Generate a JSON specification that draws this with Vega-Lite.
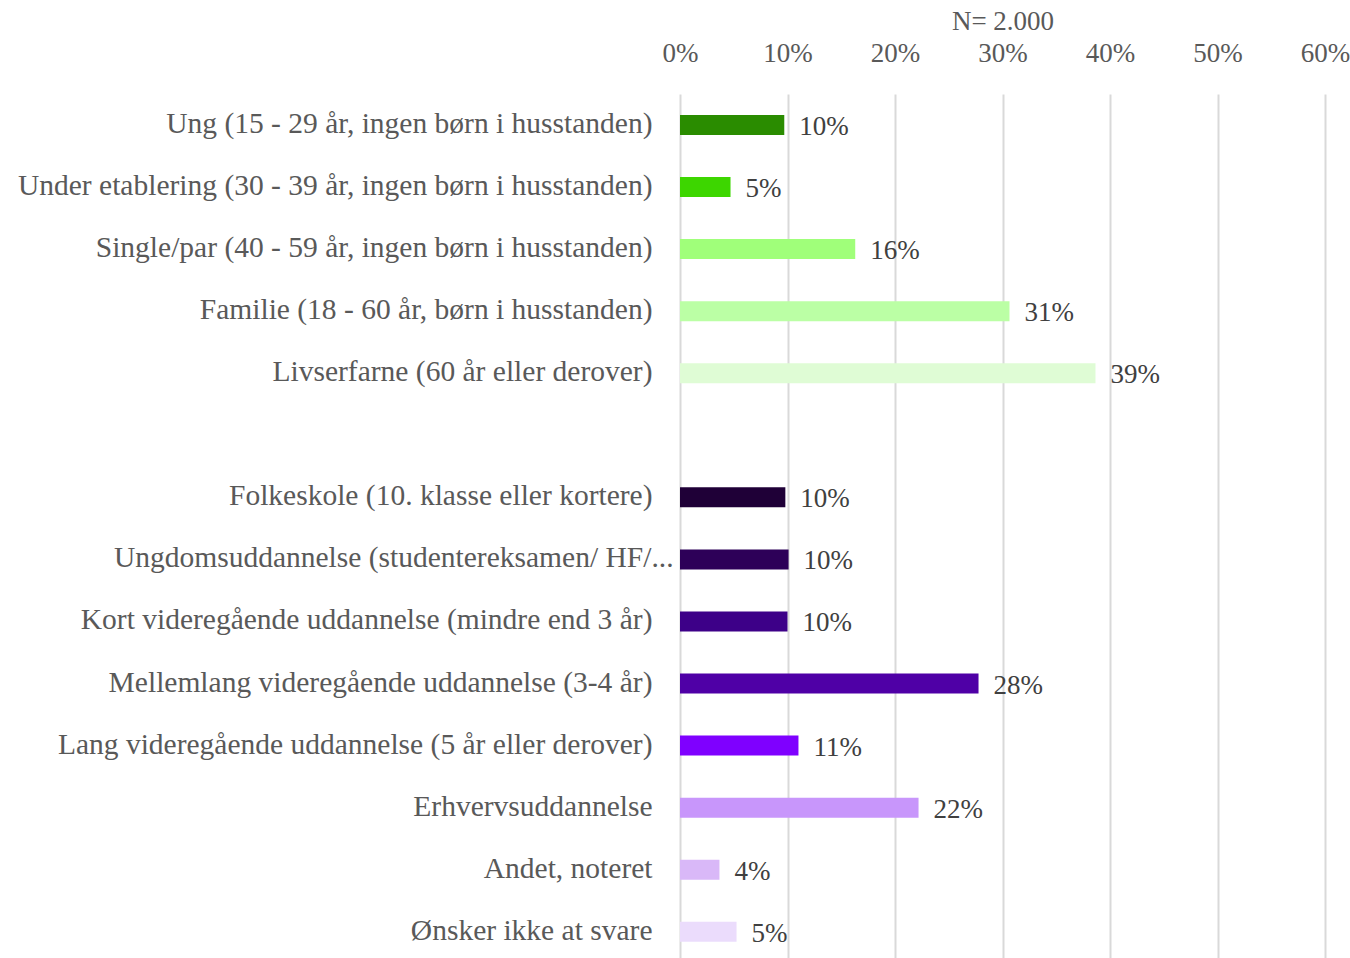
{
  "$schema": "https://vega.github.io/schema/vega-lite/v6.json",
  "width": 645,
  "height": 864,
  "autosize": {"type": "none"},
  "padding": {"left": 680, "top": 94, "right": 25, "bottom": 0},
  "background": "white",
  "config": {"view": {"stroke": null}, "font": "Liberation Serif"},
  "data": {
    "values": [
      {"cat": "Ung (15 - 29 år, ingen børn i husstanden)", "value": 0.097},
      {"cat": "Under etablering (30 - 39 år, ingen børn i husstanden)", "value": 0.047},
      {"cat": "Single/par (40 - 59 år, ingen børn i husstanden)", "value": 0.163},
      {"cat": "Familie (18 - 60 år, børn i husstanden)", "value": 0.3065},
      {"cat": "Livserfarne (60 år eller derover)", "value": 0.3865},
      {"cat": "Folkeskole (10. klasse eller kortere)", "value": 0.098},
      {"cat": "Ungdomsuddannelse (studentereksamen/ HF/...", "value": 0.101},
      {"cat": "Kort videregående uddannelse (mindre end 3 år)", "value": 0.1},
      {"cat": "Mellemlang videregående uddannelse (3-4 år)", "value": 0.2777},
      {"cat": "Lang videregående uddannelse (5 år eller derover)", "value": 0.1102},
      {"cat": "Erhvervsuddannelse", "value": 0.2219},
      {"cat": "Andet, noteret", "value": 0.0367},
      {"cat": "Ønsker ikke at svare", "value": 0.0526}
    ]
  },
  "encoding": {
    "y": {
      "field": "cat",
      "type": "nominal",
      "title": null,
      "scale": {
        "domain": [
          "Ung (15 - 29 år, ingen børn i husstanden)",
          "Under etablering (30 - 39 år, ingen børn i husstanden)",
          "Single/par (40 - 59 år, ingen børn i husstanden)",
          "Familie (18 - 60 år, børn i husstanden)",
          "Livserfarne (60 år eller derover)",
          " ",
          "Folkeskole (10. klasse eller kortere)",
          "Ungdomsuddannelse (studentereksamen/ HF/...",
          "Kort videregående uddannelse (mindre end 3 år)",
          "Mellemlang videregående uddannelse (3-4 år)",
          "Lang videregående uddannelse (5 år eller derover)",
          "Erhvervsuddannelse",
          "Andet, noteret",
          "Ønsker ikke at svare"
        ],
        "paddingInner": 0.678,
        "paddingOuter": 0.3,
        "align": 0.564
      },
      "axis": {
        "domain": false,
        "ticks": false,
        "tickSize": 0,
        "grid": false,
        "labelFont": "Liberation Serif",
        "labelFontSize": 29.5,
        "labelColor": "#595959",
        "labelLimit": 1000,
        "labelBaseline": "alphabetic",
        "labelOffset": 8,
        "labelPadding": {"expr": "datum.value === 'Ungdomsuddannelse (studentereksamen/ HF/...' ? 7 : 28"}
      }
    }
  },
  "layer": [
    {
      "mark": {"type": "bar"},
      "encoding": {
        "x": {
          "field": "value",
          "type": "quantitative",
          "scale": {"domain": [0, 0.6], "nice": false},
          "axis": {
            "orient": "top",
            "values": [0, 0.1, 0.2, 0.3, 0.4, 0.5, 0.6],
            "format": ".0%",
            "domain": false,
            "ticks": false,
            "tickSize": 0,
            "grid": true,
            "gridColor": "#d9d9d9",
            "gridWidth": 2,
            "labelFont": "Liberation Serif",
            "labelFontSize": 27,
            "labelColor": "#595959",
            "labelBaseline": "alphabetic",
            "labelPadding": 33,
            "labelFlush": false,
            "title": "N= 2.000",
            "titleFont": "Liberation Serif",
            "titleFontSize": 27,
            "titleFontWeight": "normal",
            "titleColor": "#595959",
            "titleBaseline": "alphabetic",
            "titleX": 322.5,
            "titleY": -65,
            "titleAlign": "center"
          }
        },
        "color": {
          "field": "cat",
          "type": "nominal",
          "legend": null,
          "scale": {
            "domain": [
              "Ung (15 - 29 år, ingen børn i husstanden)",
              "Under etablering (30 - 39 år, ingen børn i husstanden)",
              "Single/par (40 - 59 år, ingen børn i husstanden)",
              "Familie (18 - 60 år, børn i husstanden)",
              "Livserfarne (60 år eller derover)",
              "Folkeskole (10. klasse eller kortere)",
              "Ungdomsuddannelse (studentereksamen/ HF/...",
              "Kort videregående uddannelse (mindre end 3 år)",
              "Mellemlang videregående uddannelse (3-4 år)",
              "Lang videregående uddannelse (5 år eller derover)",
              "Erhvervsuddannelse",
              "Andet, noteret",
              "Ønsker ikke at svare"
            ],
            "range": [
              "#2a8c00", "#3dd600", "#a0ff7a", "#bbffa5", "#dffcd5",
              "#1f0037", "#2d0058", "#3d0088", "#4f00a6", "#7f00ff",
              "#c896fb", "#d9b8f8", "#ebdcfc"
            ]
          }
        }
      }
    },
    {
      "mark": {
        "type": "text",
        "align": "left",
        "baseline": "alphabetic",
        "dx": 15,
        "dy": 10,
        "font": "Liberation Serif",
        "fontSize": 27,
        "color": "#404040"
      },
      "encoding": {
        "x": {"field": "value", "type": "quantitative"},
        "text": {"field": "value", "type": "quantitative", "format": ".0%"}
      }
    }
  ]
}
